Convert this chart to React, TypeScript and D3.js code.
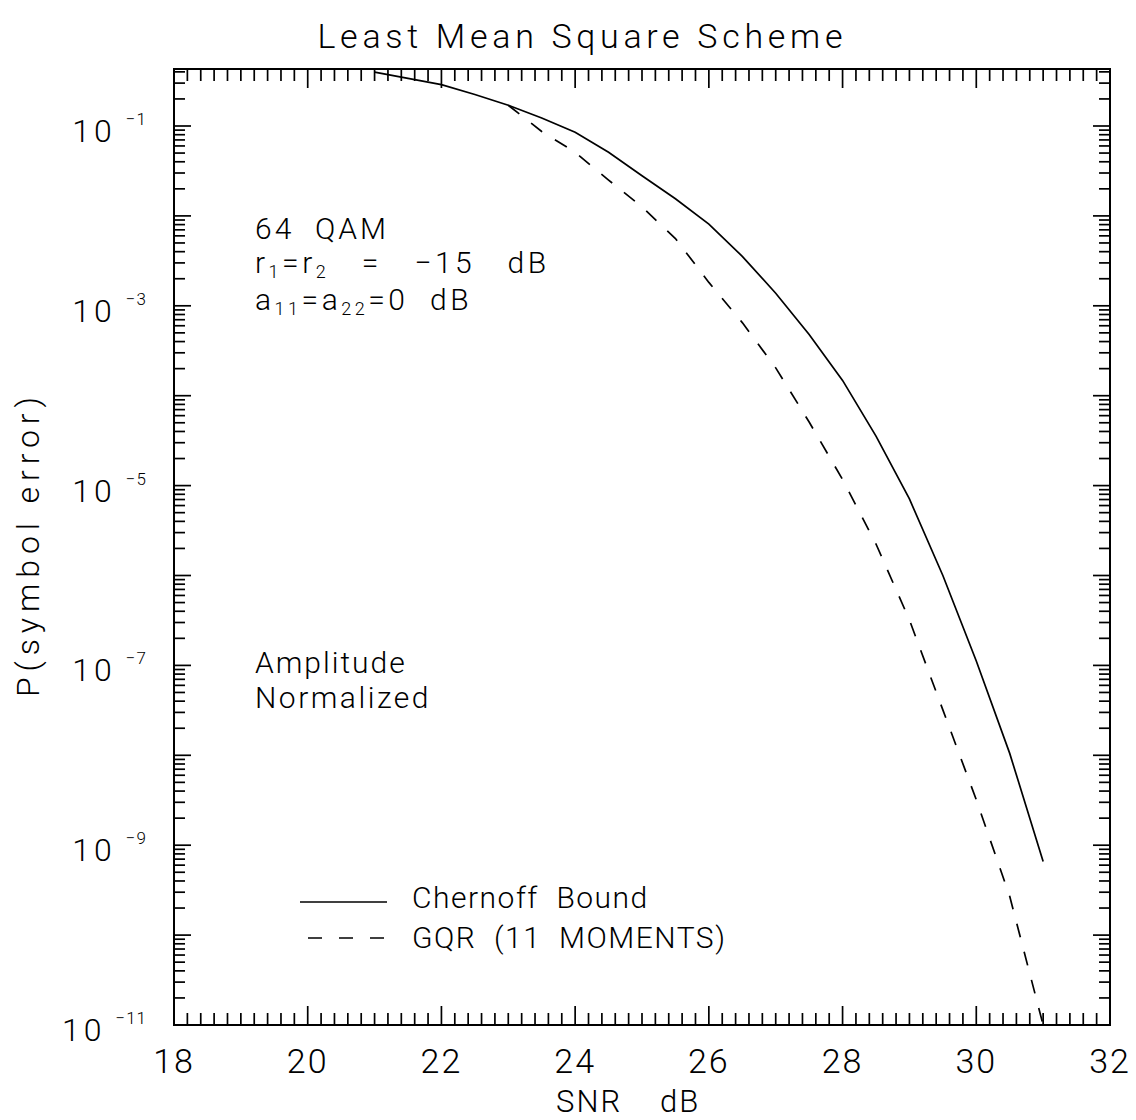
import React from "react";
import * as d3 from "d3";

const chernoffSnr = [21, 21.5, 22, 22.5, 23, 23.5, 24, 24.5, 25, 25.5, 26, 26.5, 27, 27.5, 28, 28.5, 29, 29.5, 30, 30.5, 31];
const chernoffPe = [3.98e-1, 3.39e-1, 2.88e-1, 2.24e-1, 1.7e-1, 1.23e-1, 8.5e-2, 5.1e-2, 2.8e-2, 1.55e-2, 8.1e-3, 3.55e-3, 1.38e-3, 4.8e-4, 1.48e-4, 3.55e-5, 7.1e-6, 1.0e-6, 1.12e-7, 1.05e-8, 6.6e-10];

const gqrSnr = [23, 23.5, 24, 24.5, 25, 25.5, 26, 26.5, 27, 27.5, 28, 28.5, 29, 29.5, 30, 30.5, 31];
const gqrPe = [1.7e-1, 8.7e-2, 5.1e-2, 2.5e-2, 1.26e-2, 5.6e-3, 1.82e-3, 6.5e-4, 2.04e-4, 5.1e-5, 1.17e-5, 2.24e-6, 3.2e-7, 3.2e-8, 3.2e-9, 2.7e-10, 1.0e-11];

const xTickLabels = [18, 20, 22, 24, 26, 28, 30, 32];
const yLabelExponents = [-1, -3, -5, -7, -9, -11];

const FONT = "Roboto, 'DejaVu Sans', sans-serif";
const SP = "\u00A0";
const SP2 = "\u00A0\u00A0";
const SP3 = "\u00A0\u00A0\u00A0";

export default function App() {
  const left = 174, right = 1110, top = 69, bottom = 1025;
  const x = d3.scaleLinear().domain([18, 32]).range([left, right]);
  const y = d3.scaleLog().domain([1e-11, Math.pow(10, -0.366)]).range([bottom, top]);

  const line = d3
    .line<[number, number]>()
    .x((d) => x(d[0]))
    .y((d) => y(d[1]));

  const chernoff = chernoffSnr.map((s, i) => [s, chernoffPe[i]] as [number, number]);
  const gqr = gqrSnr.map((s, i) => [s, gqrPe[i]] as [number, number]);

  const xMinor: number[] = [];
  for (let i = 0; i <= 70; i++) xMinor.push(18 + i * 0.2);

  const yTicks: { v: number; major: boolean }[] = [];
  for (let e = -11; e <= 0; e++) {
    for (let k = 1; k <= 9; k++) {
      const v = k * Math.pow(10, e);
      if (v >= 1e-11 && v <= Math.pow(10, -0.366) * 0.98) yTicks.push({ v, major: k === 1 });
    }
  }

  const tickStroke = 1.7;

  return (
    <svg
      width={1136}
      height={1120}
      style={{ position: "absolute", left: 0, top: 0, background: "#fff" }}
      fontFamily={FONT}
      fontWeight={300}
    >
      <rect x={0} y={0} width={1136} height={1120} fill="#fff" />
      <text x={580} y={48} textAnchor="middle" fontSize={34} textLength={525} lengthAdjust="spacing">
        {"Least" + SP + "Mean" + SP + "Square" + SP + "Scheme"}
      </text>

      <rect x={left} y={top} width={right - left} height={bottom - top} fill="none" stroke="#000" strokeWidth={2} />

      {xMinor.map((v, i) => {
        const major = i % 10 === 0;
        const len = major ? 19 : 12;
        const px = x(v);
        return (
          <g key={"xt" + i}>
            <line x1={px} x2={px} y1={bottom} y2={bottom - len} stroke="#000" strokeWidth={tickStroke} />
            <line x1={px} x2={px} y1={top} y2={top + len} stroke="#000" strokeWidth={tickStroke} />
          </g>
        );
      })}

      {yTicks.map((t, i) => {
        const len = t.major ? 17 : 11;
        const py = y(t.v);
        return (
          <g key={"yt" + i}>
            <line x1={left} x2={left + len} y1={py} y2={py} stroke="#000" strokeWidth={tickStroke} />
            <line x1={right} x2={right - len} y1={py} y2={py} stroke="#000" strokeWidth={tickStroke} />
          </g>
        );
      })}

      {xTickLabels.map((v) => (
        <text key={"xl" + v} x={x(v)} y={1073} textAnchor="middle" fontSize={34} letterSpacing={2}>
          {v}
        </text>
      ))}

      {yLabelExponents.map((e) => (
        <text key={"yl" + e} x={147} y={y(Math.pow(10, e)) + 16} textAnchor="end">
          <tspan fontSize={32} letterSpacing={4}>10</tspan>
          <tspan fontSize={17} dx={10} dy={-17} letterSpacing={1}>{"\u2212" + Math.abs(e)}</tspan>
        </text>
      ))}

      <text x={556} y={1112} fontSize={31} letterSpacing={2}>SNR</text>
      <text x={660} y={1112} fontSize={31} letterSpacing={2}>dB</text>
      <text
        transform={`translate(39, ${(top + bottom) / 2}) rotate(-90)`}
        textAnchor="middle"
        fontSize={32}
        textLength={300}
        lengthAdjust="spacing"
      >
        P(symbol error)
      </text>

      <path d={line(chernoff) || ""} fill="none" stroke="#000" strokeWidth={1.7} />
      <path d={line(gqr) || ""} fill="none" stroke="#000" strokeWidth={1.7} strokeDasharray="14 15" />

      <g fontSize={30}>
        <text x={255} y={239} letterSpacing={3}>{"64" + SP2 + "QAM"}</text>
        <text x={255} y={273} letterSpacing={3.5}>
          <tspan>r</tspan>
          <tspan fontSize={18} dy={5}>1</tspan>
          <tspan dy={-5}>=r</tspan>
          <tspan fontSize={18} dy={5}>2</tspan>
          <tspan dy={-5}>{SP3 + "=" + SP3 + "\u221215" + SP3 + "dB"}</tspan>
        </text>
        <text x={255} y={310} letterSpacing={3.5}>
          <tspan>a</tspan>
          <tspan fontSize={18} dy={5}>11</tspan>
          <tspan dy={-5}>=a</tspan>
          <tspan fontSize={18} dy={5}>22</tspan>
          <tspan dy={-5}>{"=0" + SP2 + "dB"}</tspan>
        </text>
        <text x={255} y={673} letterSpacing={2}>Amplitude</text>
        <text x={255} y={708} letterSpacing={2.5}>Normalized</text>
      </g>

      <line x1={300} x2={387} y1={902} y2={902} stroke="#000" strokeWidth={1.7} />
      <line x1={308} x2={387} y1={938} y2={938} stroke="#000" strokeWidth={1.7} strokeDasharray="14 17" />
      <g fontSize={30} letterSpacing={1.5}>
        <text x={412} y={908}>{"Chernoff" + SP2 + "Bound"}</text>
        <text x={412} y={948}>{"GQR" + SP2 + "(11" + SP2 + "MOMENTS)"}</text>
      </g>
    </svg>
  );
}
